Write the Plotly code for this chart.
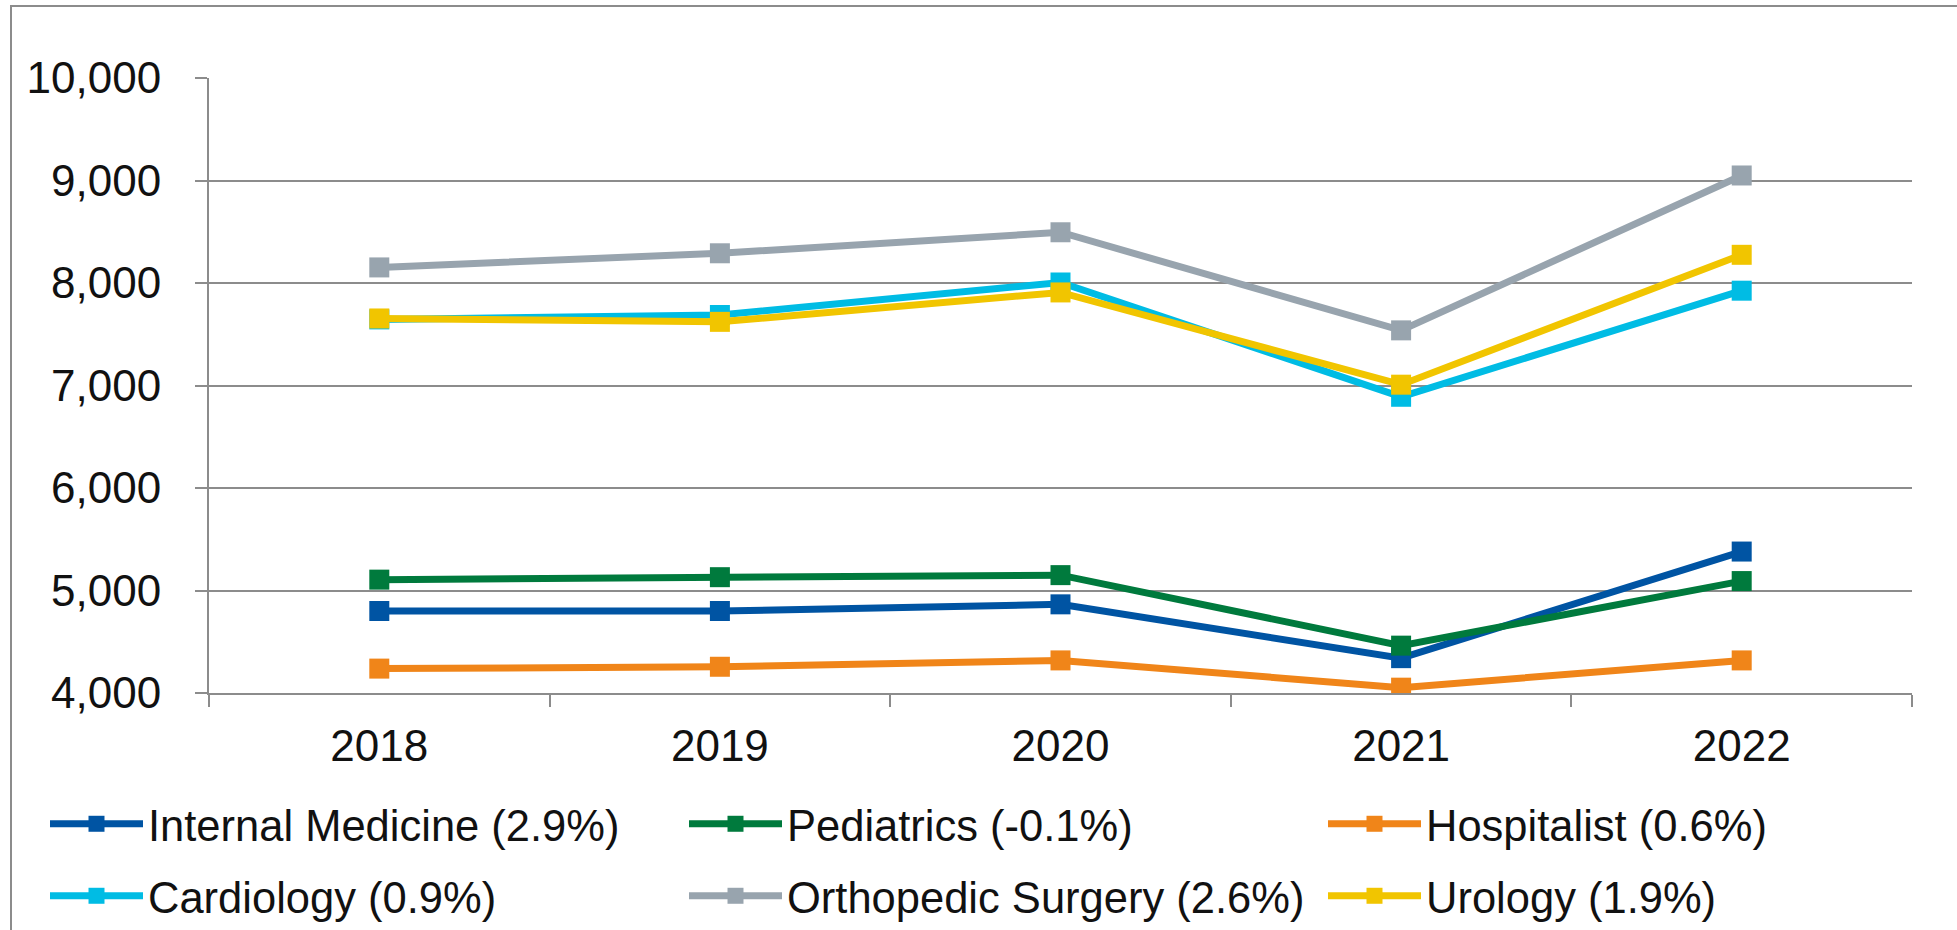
import plotly.graph_objects as go

years = ["2018", "2019", "2020", "2021", "2022"]

internal_medicine = [4800, 4800, 4865, 4340, 5380]
pediatrics = [5106, 5130, 5150, 4462, 5092]
hospitalist = [4238, 4256, 4318, 4052, 4318]
cardiology = [7645, 7688, 8005, 6890, 7925]
orthopedic_surgery = [8152, 8290, 8495, 7538, 9049]
urology = [7654, 7621, 7908, 7008, 8275]

series_names = [
    "Internal Medicine (2.9%)",
    "Pediatrics (-0.1%)",
    "Hospitalist (0.6%)",
    "Cardiology (0.9%)",
    "Orthopedic Surgery (2.6%)",
    "Urology (1.9%)",
]
series_values = [internal_medicine, pediatrics, hospitalist, cardiology, orthopedic_surgery, urology]
series_colors = ["#0054A3", "#007A3D", "#F08519", "#00BCE4", "#98A4AE", "#F1C500"]
legend_ids = ["legend", "legend", "legend", "legend2", "legend2", "legend2"]
legend_widths = [531, 531, 420, 531, 531, 420]

W, H = 1957, 930
L, R, T, B = 209, 45, 78, 237
PW, PH = W - L - R, H - T - B

def px_x(p):
    return (p - L) / PW

def px_y(p):
    return 1 - (p - T) / PH

FONT = "Liberation Sans, Arial, sans-serif"
GRID = "#8C8C8C"

fig = go.Figure()
for name, vals, col, lg, lw in zip(series_names, series_values, series_colors, legend_ids, legend_widths):
    fig.add_trace(go.Scatter(
        x=years, y=vals, name=name, mode="lines+markers",
        line=dict(color=col, width=7),
        marker=dict(symbol="square", size=20, color=col),
        legend=lg, legendwidth=lw,
    ))

legend_common = dict(
    orientation="h", xanchor="left", yanchor="middle",
    font=dict(family=FONT, size=43.5, color="#111111"),
    itemwidth=93, entrywidthmode="pixels",
    bgcolor="rgba(0,0,0,0)", borderwidth=0, itemclick=False,
)

fig.update_layout(
    width=W, height=H,
    margin=dict(l=L, r=R, t=T, b=B, autoexpand=False),
    paper_bgcolor="white", plot_bgcolor="white",
    font=dict(family=FONT, size=44, color="#111111"),
    legend=dict(x=px_x(45), y=px_y(824), **legend_common),
    legend2=dict(x=px_x(45), y=px_y(896), **legend_common),
    xaxis=dict(
        type="category", range=[-0.5, 4.5], showgrid=False,
        showline=True, linecolor=GRID, linewidth=2,
        ticks="outside", tickson="boundaries", ticklen=12, tickwidth=2, tickcolor=GRID,
        tickfont=dict(family=FONT, size=44, color="#111111"),
        ticklabelstandoff=13,
    ),
    yaxis=dict(
        range=[4000, 10000], dtick=1000, tickformat=",d",
        showgrid=True, gridcolor=GRID, gridwidth=2,
        showline=True, linecolor=GRID, linewidth=2,
        ticks="outside", ticklen=12, tickwidth=2, tickcolor=GRID,
        tickfont=dict(family=FONT, size=44, color="#111111"),
        ticklabelstandoff=25, zeroline=False,
    ),
    shapes=[dict(
        type="rect", xref="paper", yref="paper",
        x0=px_x(11), x1=px_x(1990), y0=px_y(980), y1=px_y(6),
        line=dict(color="#8C8C8C", width=2), fillcolor="rgba(0,0,0,0)", layer="below",
    )],
)

fig.write_html(
    "out.html",
    config={"displayModeBar": False},
    post_script="document.body.style.margin='0';document.body.style.overflow='hidden';",
)
